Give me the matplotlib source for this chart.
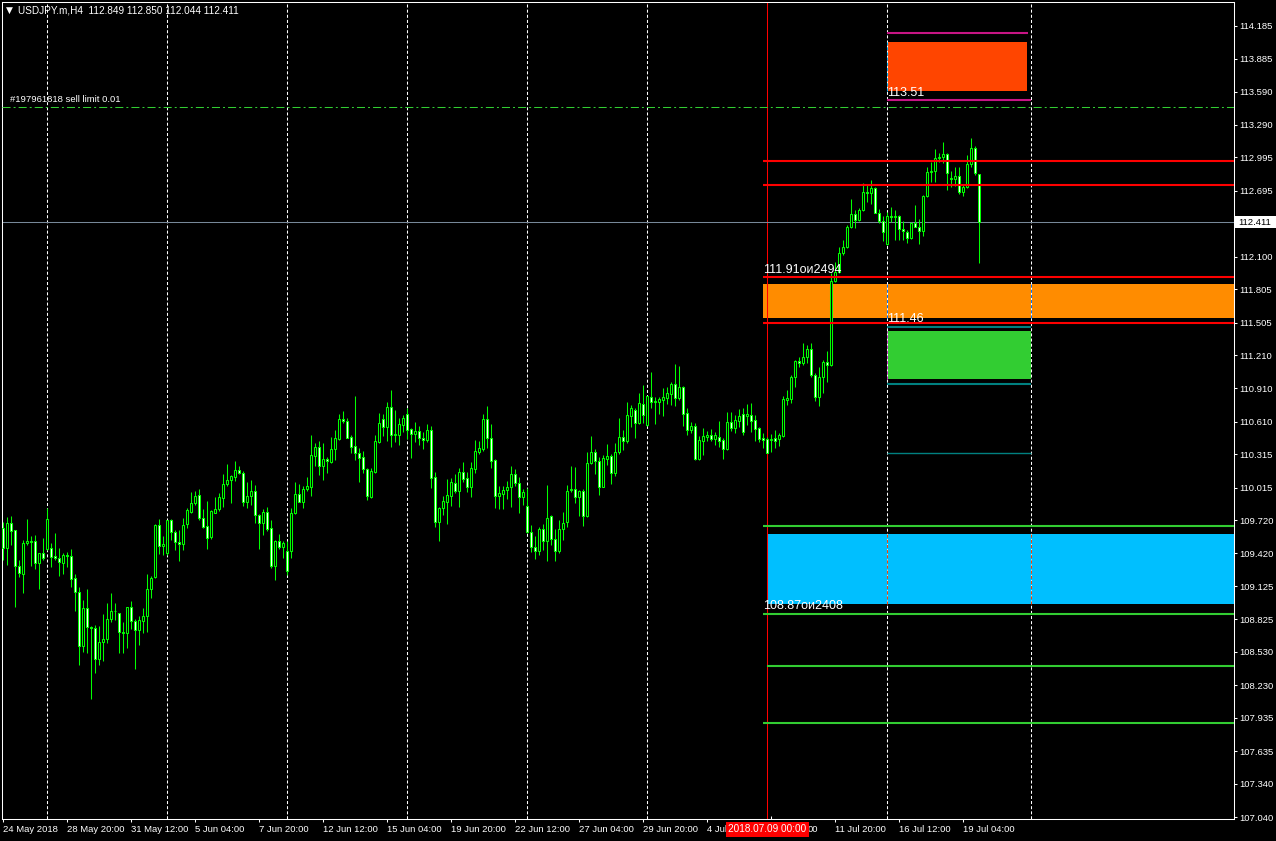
import matplotlib
matplotlib.use("Agg")
import matplotlib.pyplot as plt
from matplotlib.patches import Rectangle
import matplotlib.colors as mcolors
import matplotlib.transforms as mtransforms

plt.rcParams['lines.scale_dashes'] = False

# ---- USDJPY.m H4 candles (24 May 2018 .. 20 Jul 2018) ----
opens = [
    109.647, 109.466, 109.692, 109.628, 109.309, 109.231, 109.511, 109.529, 109.529, 109.337,
    109.421, 109.457, 109.466, 109.394, 109.376, 109.337, 109.403, 109.397, 109.195, 109.069,
    108.587, 108.924, 108.759, 108.744, 108.470, 108.623, 108.644, 108.825, 108.897, 108.879,
    108.707, 108.698, 108.933, 108.810, 108.729, 108.810, 108.852, 109.096, 109.204, 109.677,
    109.487, 109.421, 109.722, 109.610, 109.520, 109.502, 109.686, 109.791, 109.872, 109.945,
    109.740, 109.668, 109.565, 109.788, 109.818, 109.924, 110.044, 110.083, 110.113, 110.170,
    110.143, 109.887, 109.939, 109.984, 109.767, 109.692, 109.791, 109.647, 109.309, 109.532,
    109.481, 109.439, 109.439, 109.782, 109.954, 109.887, 109.999, 110.023, 110.300, 110.381,
    110.212, 110.270, 110.249, 110.360, 110.456, 110.631, 110.616, 110.471, 110.387, 110.324,
    110.288, 110.179, 109.933, 110.158, 110.429, 110.631, 110.559, 110.739, 110.489, 110.489,
    110.579, 110.679, 110.540, 110.495, 110.525, 110.459, 110.447, 110.534, 110.110, 109.706,
    109.833, 109.887, 109.941, 110.053, 109.986, 110.152, 110.098, 110.023, 110.182, 110.339,
    110.363, 110.631, 110.459, 110.263, 109.941, 109.953, 109.989, 110.016, 110.134, 110.053,
    109.932, 109.848, 109.610, 109.475, 109.445, 109.637, 109.532, 109.758, 109.547, 109.445,
    109.637, 109.700, 109.989, 110.001, 109.926, 109.983, 109.761, 110.233, 110.336, 110.257,
    110.023,
    110.275, 110.300, 110.143, 110.333, 110.474, 110.435, 110.664, 110.715, 110.601, 110.766,
    110.579, 110.829, 110.790, 110.790, 110.805, 110.826, 110.862, 110.950, 110.826, 110.926,
    110.685, 110.534, 110.570, 110.272, 110.438, 110.474, 110.486, 110.453, 110.471, 110.444,
    110.363, 110.610, 110.549, 110.619, 110.679, 110.661, 110.670, 110.625, 110.555, 110.459,
    110.453, 110.444, 110.462, 110.453, 110.483, 110.805, 110.814, 111.010, 111.157,
    111.142, 111.196, 111.262, 111.031, 110.835, 111.016, 111.151, 111.121, 111.882, 111.964,
    112.129, 112.183, 112.370, 112.484, 112.430, 112.521, 112.686, 112.671, 112.716, 112.497,
    112.424, 112.214, 112.469, 112.460, 112.466, 112.346, 112.319, 112.265, 112.406, 112.370,
    112.334, 112.647, 112.867, 112.876, 112.987, 113.002, 113.026, 112.807, 112.798, 112.831,
    112.686, 112.725, 112.936, 113.077, 112.849,
]
highs = [
    109.707, 109.752, 109.758, 109.628, 109.361, 109.541, 109.731, 109.577, 109.586, 109.421,
    109.559, 109.827, 109.517, 109.604, 109.472, 109.424, 109.430, 109.460, 109.231, 109.114,
    108.999, 109.096, 108.765, 108.774, 108.768, 108.873, 108.969, 109.060, 108.969, 108.879,
    108.798, 108.933, 108.990, 108.828, 108.858, 108.924, 109.231, 109.219, 109.686, 109.728,
    109.577, 109.722, 109.728, 109.635, 109.631, 109.737, 109.833, 109.978, 109.984, 110.002,
    109.818, 109.893, 109.812, 109.933, 109.969, 110.137, 110.227, 110.128, 110.255, 110.209,
    110.164, 110.068, 110.083, 110.035, 109.773, 109.818, 109.842, 109.722, 109.541, 109.595,
    109.535, 109.532, 109.827, 110.068, 110.047, 110.029, 110.107, 110.489, 110.414, 110.435,
    110.414, 110.294, 110.474, 110.535, 110.679, 110.703, 110.646, 110.489, 110.842, 110.369,
    110.342, 110.191, 110.188, 110.489, 110.691, 110.679, 110.790, 110.896, 110.715, 110.646,
    110.670, 110.736, 110.549, 110.606, 110.570, 110.516, 110.588, 110.570, 110.155, 109.842,
    109.938, 110.092, 110.098, 110.137, 110.191, 110.245, 110.155, 110.245, 110.444, 110.438,
    110.679, 110.751, 110.588, 110.275, 110.029, 110.029, 110.074, 110.209, 110.182, 110.110,
    110.001, 110.007, 109.676, 109.577, 109.655, 109.685, 110.038, 109.767, 109.640, 109.721,
    109.794, 110.038, 110.209, 110.200, 109.992, 110.004, 110.336, 110.483, 110.363, 110.287,
    110.308,
    110.408, 110.315, 110.414, 110.640, 110.534, 110.787, 110.757, 110.730, 110.865, 110.941,
    110.841, 111.058, 110.829, 110.829, 110.911, 110.926, 110.971, 111.130, 111.112, 110.932,
    110.730, 110.604, 110.594, 110.480, 110.549, 110.525, 110.540, 110.513, 110.616, 110.465,
    110.700, 110.700, 110.670, 110.724, 110.730, 110.769, 110.778, 110.670, 110.564, 110.504,
    110.474, 110.495, 110.534, 110.504, 110.841, 110.896, 111.031, 111.166, 111.197,
    111.317, 111.302, 111.317, 111.046, 111.106, 111.166, 111.250, 111.949, 112.054, 112.183,
    112.250, 112.385, 112.617, 112.521, 112.536, 112.767, 112.746, 112.792, 112.725, 112.527,
    112.466, 112.506, 112.545, 112.521, 112.475, 112.424, 112.340, 112.415, 112.566, 112.436,
    112.656, 112.912, 112.957, 113.071, 113.032, 113.132, 113.032, 112.876, 112.906, 112.906,
    112.746, 113.017, 113.168, 113.099, 112.850,
]
lows = [
    109.361, 109.315, 109.496, 108.939, 109.210, 109.066, 109.496, 109.309, 109.279, 109.099,
    109.361, 109.451, 109.300, 109.361, 109.219, 109.234, 109.300, 109.120, 108.903, 108.412,
    108.533, 108.518, 108.102, 108.337, 108.412, 108.452, 108.608, 108.798, 108.819, 108.524,
    108.524, 108.563, 108.735, 108.373, 108.593, 108.704, 108.713, 109.020, 109.201, 109.412,
    109.406, 109.409, 109.541, 109.448, 109.355, 109.451, 109.647, 109.782, 109.857, 109.722,
    109.647, 109.457, 109.547, 109.782, 109.803, 109.842, 110.029, 109.878, 110.077, 110.134,
    109.848, 109.827, 109.857, 109.692, 109.460, 109.586, 109.623, 109.285, 109.180, 109.460,
    109.376, 109.225, 109.382, 109.776, 109.881, 109.833, 109.984, 109.939, 110.212, 110.128,
    110.083, 110.149, 110.240, 110.264, 110.444, 110.595, 110.459, 110.324, 110.264, 110.068,
    110.149, 109.902, 109.918, 110.149, 110.420, 110.480, 110.435, 110.378, 110.429, 110.399,
    110.519, 110.453, 110.284, 110.429, 110.399, 110.363, 110.429, 110.014, 109.661, 109.532,
    109.767, 109.688, 109.848, 109.968, 109.842, 110.068, 109.977, 109.932, 110.149, 110.317,
    110.345, 110.375, 110.194, 109.833, 109.821, 109.818, 109.911, 109.842, 110.032, 109.788,
    109.857, 109.601, 109.436, 109.366, 109.402, 109.451, 109.354, 109.496, 109.354, 109.427,
    109.541, 109.661, 109.971, 109.878, 109.761, 109.670, 109.752, 110.227, 110.134, 109.947,
    110.017,
    110.218, 110.047, 110.119, 110.315, 110.354, 110.420, 110.558, 110.465, 110.588, 110.594,
    110.570, 110.736, 110.588, 110.679, 110.661, 110.769, 110.760, 110.751, 110.805, 110.570,
    110.489, 110.504, 110.263, 110.263, 110.309, 110.438, 110.438, 110.399, 110.384, 110.272,
    110.354, 110.528, 110.504, 110.558, 110.489, 110.579, 110.519, 110.435, 110.429, 110.369,
    110.324, 110.339, 110.375, 110.390, 110.474, 110.760, 110.775, 110.926, 111.106,
    111.121, 111.136, 111.016, 110.799, 110.751, 110.865, 110.971, 111.112, 111.873, 111.949,
    112.114, 112.174, 112.355, 112.355, 112.424, 112.515, 112.596, 112.575, 112.491, 112.406,
    112.244, 112.205, 112.415, 112.250, 112.250, 112.250, 112.220, 112.256, 112.364, 112.214,
    112.286, 112.635, 112.776, 112.776, 112.957, 112.942, 112.701, 112.725, 112.737, 112.665,
    112.647, 112.716, 112.912, 112.837, 112.044,
]
closes = [
    109.466, 109.692, 109.625, 109.309, 109.240, 109.511, 109.529, 109.523, 109.337, 109.421,
    109.376, 109.728, 109.391, 109.376, 109.340, 109.403, 109.400, 109.192, 109.069, 108.587,
    108.924, 108.753, 108.750, 108.470, 108.623, 108.644, 108.825, 108.897, 108.900, 108.707,
    108.698, 108.933, 108.810, 108.729, 108.819, 108.852, 109.096, 109.198, 109.677, 109.487,
    109.505, 109.722, 109.610, 109.520, 109.502, 109.677, 109.812, 109.872, 109.939, 109.737,
    109.662, 109.562, 109.803, 109.818, 109.933, 110.044, 110.083, 110.116, 110.170, 110.143,
    109.887, 109.939, 109.984, 109.764, 109.692, 109.791, 109.641, 109.309, 109.532, 109.481,
    109.511, 109.264, 109.782, 109.954, 109.887, 109.999, 110.029, 110.306, 110.381, 110.212,
    110.270, 110.255, 110.360, 110.459, 110.631, 110.613, 110.465, 110.384, 110.330, 110.285,
    110.179, 109.942, 110.164, 110.435, 110.598, 110.559, 110.739, 110.489, 110.501, 110.586,
    110.640, 110.534, 110.495, 110.525, 110.459, 110.447, 110.534, 110.104, 109.706, 109.833,
    109.893, 109.947, 110.062, 109.986, 110.152, 110.092, 110.023, 110.188, 110.345, 110.369,
    110.631, 110.459, 110.257, 109.941, 109.962, 109.992, 110.016, 110.134, 110.053, 109.932,
    109.971, 109.610, 109.475, 109.445, 109.637, 109.532, 109.737, 109.547, 109.445, 109.637,
    109.697, 109.983, 110.001, 109.926, 109.983, 109.761, 110.233, 110.336, 110.257, 110.023,
    110.278,
    110.300, 110.143, 110.333, 110.474, 110.435, 110.670, 110.730, 110.601, 110.775, 110.670,
    110.841, 110.790, 110.796, 110.811, 110.829, 110.865, 110.950, 110.826, 110.920, 110.682,
    110.534, 110.570, 110.272, 110.444, 110.477, 110.486, 110.453, 110.489, 110.438, 110.363,
    110.610, 110.555, 110.625, 110.661, 110.516, 110.679, 110.619, 110.546, 110.453, 110.444,
    110.330, 110.453, 110.438, 110.486, 110.814, 110.820, 111.016, 111.157, 111.136,
    111.196, 111.262, 111.031, 110.835, 111.016, 111.151, 111.121, 111.882, 111.964, 112.129,
    112.183, 112.370, 112.484, 112.430, 112.521, 112.686, 112.671, 112.716, 112.497, 112.424,
    112.325, 112.469, 112.460, 112.466, 112.346, 112.331, 112.265, 112.406, 112.370, 112.334,
    112.647, 112.867, 112.876, 112.987, 113.002, 113.026, 112.852, 112.798, 112.831, 112.686,
    112.725, 112.936, 113.077, 112.852, 112.411,
]

# time axis labels every 16 bars (the ones under the red date box show only their visible part)
time_ticks = [0, 16, 32, 48, 64, 80, 96, 112, 128, 144, 160, 176, 208, 224, 240]
time_labels = ["24 May 2018", "28 May 20:00", "31 May 12:00", "5 Jun 04:00", "7 Jun 20:00",
               "12 Jun 12:00", "15 Jun 04:00", "19 Jun 20:00", "22 Jun 12:00", "27 Jun 04:00",
               "29 Jun 20:00", "4 Jul", "11 Jul 20:00", "16 Jul 12:00", "19 Jul 04:00"]
hidden_tail = "00"
price_ticks = [114.185, 113.885, 113.590, 113.290, 112.995, 112.695, 112.100, 111.805,
               111.505, 111.210, 110.910, 110.610, 110.315, 110.015, 109.720, 109.420,
               109.125, 108.825, 108.530, 108.230, 107.935, 107.635, 107.340, 107.040]

bid = 112.411
grid_bars = [11, 41, 71, 101, 131, 161, 221, 257]
selected_bar = 191
sell_limit = 113.455
red_levels = [112.966, 112.749, 111.919, 111.503]
green_levels = [109.668, 108.873, 108.406, 107.889]
green_starts = [190, 190, 191, 190]

X0, X1 = -0.325, 307.675
Y0, Y1 = 107.022, 114.399

W, H = 1276, 841
fig = plt.figure(figsize=(W / 100, H / 100), dpi=100, facecolor="black")
ax = fig.add_axes([2 / W, 22 / H, 1232 / W, 817 / H])
ax.set_facecolor("black")
ax.set_xlim(X0, X1)
ax.set_ylim(Y0, Y1)

LIME = "#00ff00"
AXF = "Liberation Sans"
FS = 6.8

# rectangles (background objects)
rects = [
    (190, X1, 111.546, 111.853, "#ff8c00"),
    (191, X1, 108.963, 109.595, "#00bfff"),
    (221, 256.9, 110.995, 111.428, "#32cd32"),
    (221, 256.0, 113.598, 114.038, "#ff4500"),
]
for x0, x1, y0, y1, c in rects:
    ax.add_patch(Rectangle((x0, y0), x1 - x0, y1 - y0, facecolor=c, edgecolor="none", zorder=1))

# vertical grid (dashed), inverted over rectangles
for gx in grid_bars:
    ax.axvline(gx, color="white", lw=0.75, ls=(0, (2.2, 1.5)), zorder=1.5)
    for x0, x1, y0, y1, c in rects:
        if x0 <= gx <= x1:
            r, g, b = mcolors.to_rgb(c)
            ax.plot([gx, gx], [y0, y1], color=(1 - r, 1 - g, 1 - b), lw=0.75,
                    ls=(0, (2.2, 1.5)), zorder=1.6)
ax.axvline(selected_bar, color="red", lw=0.75, zorder=1.5)

# bid line
ax.axhline(bid, color="#778899", lw=0.75, zorder=1.7)

# candles
xs = list(range(len(opens)))
ax.vlines(xs, lows, highs, color=LIME, lw=0.75, zorder=3)
bottoms = [min(o, c) for o, c in zip(opens, closes)]
heights = [abs(c - o) for o, c in zip(opens, closes)]
fills = ["black" if c > o else "white" for o, c in zip(opens, closes)]
ax.bar(xs, heights, bottom=bottoms, width=0.55, color=fills, edgecolor=LIME,
       linewidth=0.75, zorder=3.1)

# horizontal line objects
for lv in red_levels:
    ax.hlines(lv, 190, X1, color="red", lw=1.5, zorder=4)
for lv, st in zip(green_levels, green_starts):
    ax.hlines(lv, st, X1, color="#32cd32", lw=1.5, zorder=4)
ax.hlines([111.467, 110.950], 221, 257, color="#008080", lw=1.5, zorder=4)
ax.hlines(110.327, 221, 257, color="#008080", lw=1.0, zorder=4)
ax.hlines(114.122, 221, 256.2, color="#c71585", lw=1.5, zorder=4)
ax.hlines(113.514, 221, 257, color="#c71585", lw=1.5, zorder=4)
ax.axhline(sell_limit, color="#32cd32", lw=0.75, ls=(0, (5.8, 2.2, 1.4, 2.2)), zorder=4)

# text objects
tkw = dict(color="white", fontsize=9, family=AXF, va="baseline", ha="left", zorder=5)
ax.text(190, 111.952, "111.91ои2494", **tkw)
ax.text(221, 111.510, "111.46", **tkw)
ax.text(221, 113.553, "113.51", **tkw)
ax.text(190, 108.918, "108.87ои2408", **tkw)
ax.text(1.7, sell_limit + 0.045, "#197961818 sell limit 0.01", color="white",
        fontsize=FS, family=AXF, va="baseline", zorder=5)

# header
fig.text(6 / W, 1 - 10.5 / H, "▼", color="white", fontsize=6.5, family="DejaVu Sans", va="center")
fig.text(18 / W, 1 - 10.5 / H, "USDJPY.m,H4  112.849 112.850 112.044 112.411",
         color="white", fontsize=7.2, family=AXF, va="center")

# axes styling
for sp in ax.spines.values():
    sp.set_color("white")
    sp.set_linewidth(0.75)
ax.yaxis.tick_right()
ax.set_yticks(price_ticks)
ax.set_yticklabels([f"{p:.3f}" for p in price_ticks])
ax.tick_params(axis="y", direction="out", length=2.5, width=0.75, colors="white",
               pad=1.5, labelsize=FS)
ax.set_xticks(time_ticks)
ax.set_xticklabels(time_labels)
ax.set_xticks(grid_bars + [192], minor=True)
ax.tick_params(axis="x", which="major", direction="out", length=2.5, width=0.75,
               colors="white", pad=2, labelsize=FS)
ax.tick_params(axis="x", which="minor", direction="in", length=2.5, width=0.75, colors="white")
for lab in ax.get_xticklabels() + ax.get_yticklabels():
    lab.set_family(AXF)
for lab in ax.get_xticklabels():
    lab.set_horizontalalignment("left")

# bid price box (runs to the right edge) and selected-time box
btr = mtransforms.blended_transform_factory(fig.transFigure, ax.transData)
ax.add_patch(Rectangle((1235 / W, bid - 0.054), 41 / W, 0.108, transform=btr,
                       facecolor="white", edgecolor="none", zorder=6, clip_on=False))
fig.text(1238 / W, 0, f"{bid:.3f}", transform=btr, color="black", fontsize=FS,
         family=AXF, va="center", ha="left", zorder=7).set_y(bid)
ax.text(selected_bar, -0.0125, "2018.07.09 00:00", transform=ax.get_xaxis_transform(),
        color="white", fontsize=7.2, family=AXF, va="center", ha="center", zorder=6,
        bbox=dict(boxstyle="square,pad=0.25", fc="red", ec="none"), clip_on=False)
ax.text(201.1, -0.0125, hidden_tail, transform=ax.get_xaxis_transform(),
        color="white", fontsize=FS, family=AXF, va="center", ha="left", clip_on=False)

fig.savefig("out.png", dpi=100, facecolor="black")
